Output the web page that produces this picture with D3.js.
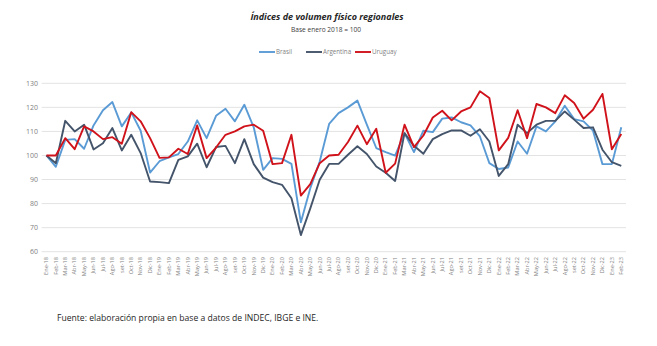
<!DOCTYPE html>
<html><head><meta charset="utf-8">
<script src="https://cdn.jsdelivr.net/npm/d3@7"></script>
<style>body{margin:0;background:#fff;} svg{display:block;}</style>
</head><body>
<svg id="c" width="657" height="346"></svg>
<script>
const months = ["Ene","Feb","Mar","Abr","May","Jun","Jul","Ago","set","Oct","Nov","Dic"];
const categories = [];
for (let y = 18; y <= 23; y++) for (let m = 0; m < 12; m++) { if (y === 23 && m > 1) break; categories.push(months[m] + "-" + y); }

const brasil = [100,95.3,106.5,106.8,102.8,112.5,118.8,122.2,112.1,117.9,110.3,92.9,
  97.6,99.2,100.6,105.8,114.6,107.2,116.5,119.4,114.2,121.1,111.7,94,
  98.9,98.6,96.5,72.2,86.4,97.5,113.1,117.6,120,122.8,112.8,103.1,
  101.4,99.9,109.3,101.4,110.3,109.7,115.3,115.8,113.8,112.5,107.9,96.8,
  94.4,95,105.8,100.7,112.1,110,114.2,120.7,115.1,114.2,110.3,96.4,
  96.4,111.7];
const argentina = [100,96.8,114.4,110,112.8,102.5,105.1,111.4,102.1,108.6,101,89.2,
  88.9,88.5,98.2,99.6,104.9,95.1,103.5,104,96.8,106.8,96.4,90.8,
  88.9,87.8,82.2,66.9,78,89.9,96.5,96.5,100.3,103.8,100.6,95.4,
  92.8,89.4,109.3,104,100.7,106.8,108.9,110.4,110.4,108.2,110.9,105.8,
  91.5,96.4,112.8,109.3,112.8,114.4,114.4,118.3,114.9,111.4,111.7,102.4,
  97.2,95.7];
const uruguay = [100,100,107.2,102.6,112.1,110,106.8,107.6,104.9,118,114.2,107.2,
  99,99.2,102.8,100.6,112.5,98.9,103.3,108.6,110,112.1,112.8,110.3,
  96.4,96.8,108.6,83.3,88.1,96.8,100,100.3,105.6,112.4,104.7,111.1,
  92.8,96.6,112.8,103.5,108.3,115.8,118.6,114.6,118.3,120,126.7,123.9,
  102.1,107.3,118.8,107.2,121.4,120,117.6,125,121.8,115.3,119,125.6,
  102.6,108.9];
const yTicks = [60,70,80,90,100,110,120,130];
const seriesNames = ["Brasil","Argentina","Uruguay"];
const seriesColors = ["#5B9BD5","#44546A","#D0121B"];
const seriesData = [brasil, argentina, uruguay];

const svg = d3.select("#c");
const font = "'Open Sans', 'Noto Sans', sans-serif";
const x = d3.scaleBand().domain(categories).range([41.7, 626]);
const y = d3.scaleLinear().domain([60,130]).range([251.7, 83.3]);

// grid
svg.append("g").selectAll("line").data(yTicks).join("line")
  .attr("x1", 41.7).attr("x2", 626)
  .attr("y1", d => y(d)).attr("y2", d => y(d))
  .attr("stroke", "#e3e3e3").attr("stroke-width", 1);

// y axis labels
const ya = svg.append("g").attr("transform", "translate(38,0)")
  .call(d3.axisLeft(y).tickValues(yTicks).tickSize(0).tickPadding(0));
ya.select(".domain").remove();
ya.selectAll("text").attr("fill", "#7f7f7f").style("font-family", font).style("font-size", "7px");

// x axis labels
const xa = svg.append("g").attr("transform", "translate(0,255)")
  .call(d3.axisBottom(x).tickSize(0).tickPadding(0));
xa.select(".domain").remove();
xa.selectAll("text").attr("fill", "#7f7f7f").style("font-family", font).style("font-size", "5.6px")
  .attr("transform", "rotate(-90)").attr("text-anchor", "end").attr("dy", "0.32em").attr("x", -2).attr("y", 0);

// lines
const line = d3.line().x((d,i) => x(categories[i]) + x.bandwidth()/2).y(d => y(d));
seriesData.forEach((s, k) => {
  svg.append("path").datum(s).attr("d", line).attr("fill", "none")
    .attr("stroke", seriesColors[k]).attr("stroke-width", 1.9).attr("stroke-linejoin", "round");
});

// title
svg.append("text").attr("x", 327).attr("y", 20).attr("text-anchor", "middle")
  .style("font-family", font).style("font-size", "9px").style("font-weight", "bold").style("font-style", "italic")
  .attr("fill", "#262626").text("Índices de volumen físico regionales");
svg.append("text").attr("x", 326).attr("y", 32).attr("text-anchor", "middle")
  .style("font-family", font).style("font-size", "6.6px").attr("fill", "#404040").text("Base enero 2018 = 100");

// legend
const legX = [259, 306, 355];
seriesNames.forEach((n, k) => {
  svg.append("line").attr("x1", legX[k]).attr("x2", legX[k] + 16).attr("y1", 52).attr("y2", 52)
    .attr("stroke", seriesColors[k]).attr("stroke-width", 1.9);
  svg.append("text").attr("x", legX[k] + 17).attr("y", 54.3).style("font-family", font).style("font-size", "6.2px")
    .attr("fill", "#7f7f7f").text(n);
});

// footnote
svg.append("text").attr("x", 57).attr("y", 321).style("font-family", font).style("font-size", "8.6px")
  .attr("fill", "#262626").text("Fuente: elaboración propia en base a datos de INDEC, IBGE e INE.");
</script>
</body></html>
